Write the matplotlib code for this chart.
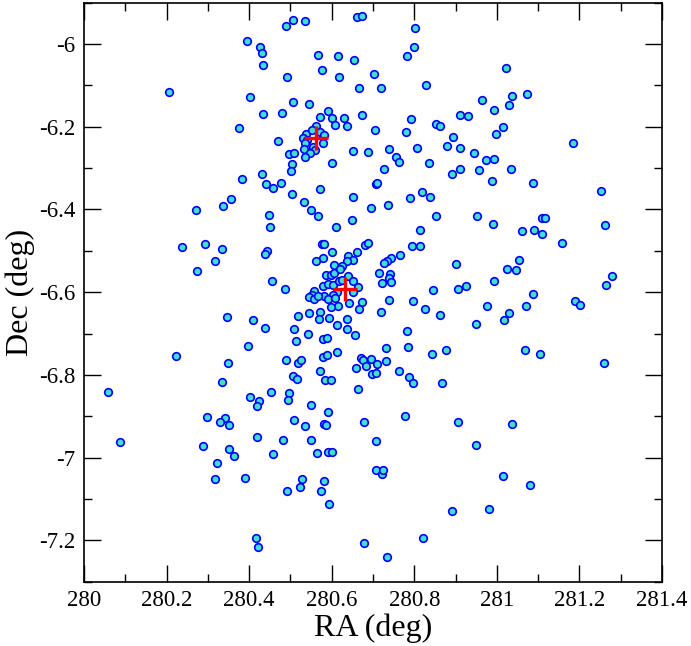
import matplotlib
matplotlib.use("Agg")
import matplotlib.pyplot as plt
from matplotlib.ticker import MultipleLocator, FormatStrFormatter

# star positions
ra = [
    280.394, 280.426, 280.432, 280.434, 280.207, 280.403, 280.434, 280.479, 280.375, 280.469,
    280.430, 280.383, 280.440, 280.458, 280.477, 280.355, 280.489, 280.505, 280.535, 280.662,
    280.674, 280.802, 280.800, 280.782, 280.567, 280.614, 280.655, 280.576, 280.492, 280.617,
    280.702, 280.666, 280.719, 280.828, 280.963, 280.507, 280.546, 280.591, 280.571, 280.601,
    280.629, 280.607, 280.637, 280.674, 280.793, 280.704, 280.779, 280.853, 280.861, 280.911,
    280.929, 280.893, 280.878, 280.911, 280.945, 280.973, 280.957, 280.911, 280.891, 280.835,
    280.806, 280.739, 280.755, 280.762, 280.727, 280.687, 280.651, 280.601, 280.496, 280.509,
    280.504, 280.501, 280.503, 280.572, 280.706, 280.710, 280.652, 280.534, 280.789, 280.819,
    280.838, 280.562, 280.572, 280.582, 280.538, 280.531, 280.541, 280.578, 280.535, 280.533,
    280.555, 280.559, 280.547, 280.536, 280.552, 281.023, 281.037, 281.074, 281.029, 280.993,
    281.014, 280.998, 281.185, 280.993, 281.033, 280.988, 281.088, 281.252, 280.337, 280.272,
    280.448, 280.450, 280.237, 280.294, 280.335, 280.444, 280.438, 280.318, 280.273, 280.456,
    280.347, 280.410, 280.439, 280.396, 280.222, 280.349, 280.333, 280.058, 280.453, 280.550,
    280.567, 280.694, 280.736, 280.852, 280.952, 280.648, 280.611, 280.813, 280.576, 280.582,
    280.600, 280.578, 280.562, 280.680, 280.687, 280.661, 280.639, 280.651, 280.636, 280.626,
    280.605, 280.794, 280.814, 280.766, 280.743, 280.735, 280.726, 280.900, 280.714, 280.741,
    280.739, 280.744, 280.721, 280.486, 280.845, 280.905, 280.924, 280.975, 280.738, 280.797,
    280.827, 280.862, 280.949, 280.719, 280.508, 280.542, 280.513, 280.579, 280.589, 280.612,
    280.578, 280.588, 280.488, 280.518, 280.526, 280.572, 280.507, 280.515, 280.583, 280.597,
    280.497, 280.664, 280.672, 280.675, 280.683, 280.659, 280.696, 280.709, 280.698, 280.706,
    280.731, 280.731, 280.782, 280.785, 280.764, 280.788, 280.798, 280.842, 280.876, 280.868,
    280.586, 280.598, 280.605, 280.621, 280.640, 280.580, 280.591, 280.604, 280.617, 280.625,
    280.652, 280.664, 280.651, 280.612, 280.604, 280.581, 280.558, 280.553, 280.546, 280.557,
    280.567, 280.592, 280.608, 280.641, 280.673, 280.667, 280.616, 280.599, 280.572, 280.545,
    280.519, 280.569, 280.593, 280.636, 280.612, 280.638, 280.657, 280.991, 281.062, 281.091,
    281.109, 281.110, 281.116, 281.263, 281.158, 281.054, 281.025, 281.046, 280.992, 281.279,
    281.265, 281.087, 281.071, 281.189, 281.201, 281.030, 281.016, 281.069, 281.104, 281.259,
    280.401, 280.423, 280.418, 280.298, 280.341, 280.329, 280.351, 280.087, 280.419, 280.481,
    280.288, 280.351, 280.363, 280.458, 280.322, 280.317, 280.390, 280.416, 280.422, 280.495,
    280.549, 280.590, 280.508, 280.535, 280.581, 280.587, 280.677, 280.778, 280.905, 280.549,
    280.707, 280.565, 280.590, 280.601, 280.950, 280.708, 280.722, 280.725, 280.529, 280.524,
    280.492, 280.581, 280.574, 280.593, 280.891, 280.821, 280.678, 280.735, 281.037, 281.014,
    281.079, 280.982,
]
dec = [
    -5.992, -6.007, -6.022, -6.050, -6.116, -6.129, -6.169, -6.168, -6.204, -6.235,
    -6.314, -6.326, -6.339, -6.347, -6.336, -6.374, -5.956, -5.942, -5.944, -5.935,
    -5.933, -5.961, -6.007, -6.029, -6.027, -6.029, -6.039, -6.062, -6.079, -6.080,
    -6.073, -6.107, -6.107, -6.100, -6.135, -6.140, -6.145, -6.162, -6.177, -6.180,
    -6.180, -6.197, -6.199, -6.171, -6.181, -6.209, -6.213, -6.193, -6.199, -6.172,
    -6.173, -6.226, -6.246, -6.251, -6.264, -6.281, -6.305, -6.303, -6.314, -6.288,
    -6.251, -6.255, -6.272, -6.285, -6.302, -6.261, -6.258, -6.288, -6.267, -6.264,
    -6.291, -6.307, -6.363, -6.351, -6.339, -6.335, -6.369, -6.382, -6.372, -6.357,
    -6.370, -6.198, -6.213, -6.220, -6.218, -6.227, -6.232, -6.239, -6.240, -6.254,
    -6.248, -6.257, -6.264, -6.273, -6.208, -6.059, -6.126, -6.122, -6.148, -6.160,
    -6.201, -6.217, -6.239, -6.277, -6.301, -6.330, -6.335, -6.355, -6.392, -6.401,
    -6.413, -6.442, -6.490, -6.484, -6.496, -6.500, -6.507, -6.524, -6.548, -6.572,
    -6.660, -6.667, -6.687, -6.729, -6.754, -6.771, -6.817, -6.842, -6.841, -6.401,
    -6.417, -6.397, -6.389, -6.417, -6.415, -6.426, -6.443, -6.450, -6.484, -6.484,
    -6.502, -6.517, -6.524, -6.485, -6.482, -6.504, -6.512, -6.523, -6.525, -6.537,
    -6.534, -6.489, -6.488, -6.511, -6.517, -6.524, -6.530, -6.531, -6.554, -6.555,
    -6.566, -6.576, -6.577, -6.592, -6.594, -6.592, -6.586, -6.634, -6.619, -6.621,
    -6.641, -6.656, -6.677, -6.648, -6.690, -6.700, -6.717, -6.714, -6.711, -6.744,
    -6.757, -6.753, -6.765, -6.771, -6.763, -6.791, -6.803, -6.810, -6.812, -6.812,
    -6.844, -6.833, -6.760, -6.765, -6.779, -6.784, -6.762, -6.773, -6.799, -6.795,
    -6.736, -6.766, -6.695, -6.732, -6.790, -6.806, -6.820, -6.750, -6.739, -6.819,
    -6.559, -6.559, -6.553, -6.545, -6.562, -6.584, -6.581, -6.583, -6.573, -6.571,
    -6.574, -6.588, -6.600, -6.600, -6.607, -6.609, -6.597, -6.607, -6.612, -6.617,
    -6.609, -6.617, -6.615, -6.627, -6.623, -6.641, -6.634, -6.637, -6.648, -6.650,
    -6.658, -6.664, -6.662, -6.665, -6.679, -6.690, -6.703, -6.434, -6.451, -6.449,
    -6.459, -6.420, -6.421, -6.438, -6.481, -6.522, -6.545, -6.547, -6.573, -6.562,
    -6.582, -6.604, -6.633, -6.622, -6.631, -6.651, -6.667, -6.740, -6.750, -6.772,
    -6.853, -6.862, -6.875, -6.901, -6.903, -6.914, -6.921, -6.962, -6.949, -6.958,
    -6.971, -6.980, -6.995, -6.991, -7.014, -7.051, -7.049, -7.195, -7.216, -6.860,
    -6.872, -6.889, -6.910, -6.924, -6.918, -6.922, -6.914, -6.900, -6.914, -6.958,
    -6.960, -6.989, -6.987, -6.987, -6.969, -7.031, -7.039, -7.029, -7.052, -7.070,
    -7.080, -7.057, -7.081, -7.111, -7.128, -7.194, -7.206, -7.240, -6.919, -7.045,
    -7.066, -7.124,
]

# cluster centres (red crosses)
centre_ra = [280.562, 280.633]
centre_dec = [-6.227, -6.592]

plt.rcParams['font.family'] = ['Liberation Serif', 'DejaVu Serif']
plt.rcParams['axes.unicode_minus'] = False

fig = plt.figure(figsize=(6.91, 6.46), dpi=100)
ax = fig.add_axes([0.1216, 0.0995, 0.8365, 0.8964])

ax.scatter(ra, dec, s=30, facecolor='#40e0d0', edgecolor='#0000ff',
           linewidths=1.2, zorder=3)
ax.plot(centre_ra, centre_dec, '+', color='red', markersize=17,
        markeredgewidth=2.4, zorder=4)

ax.set_xlim(280, 281.4)
ax.set_ylim(-7.3, -5.9)

ax.xaxis.set_major_locator(MultipleLocator(0.2))
ax.xaxis.set_minor_locator(MultipleLocator(0.1))
ax.yaxis.set_major_locator(MultipleLocator(0.2))
ax.yaxis.set_minor_locator(MultipleLocator(0.1))
ax.xaxis.set_major_formatter(FormatStrFormatter('%g'))
ax.yaxis.set_major_formatter(FormatStrFormatter('%g'))

ax.tick_params(which='both', direction='in', top=True, right=True,
               width=1.0, labelsize=16.5, pad=6)
ax.tick_params(which='major', length=12)
ax.tick_params(which='minor', length=6)
for sp in ax.spines.values():
    sp.set_linewidth(1.2)

ax.set_xlabel('RA (deg)', fontsize=23)
ax.set_ylabel('Dec (deg)', fontsize=23)
ax.xaxis.set_label_coords(0.5, -0.055)
ax.yaxis.set_label_coords(-0.085, 0.5)

fig.savefig('out.png', dpi=100)
